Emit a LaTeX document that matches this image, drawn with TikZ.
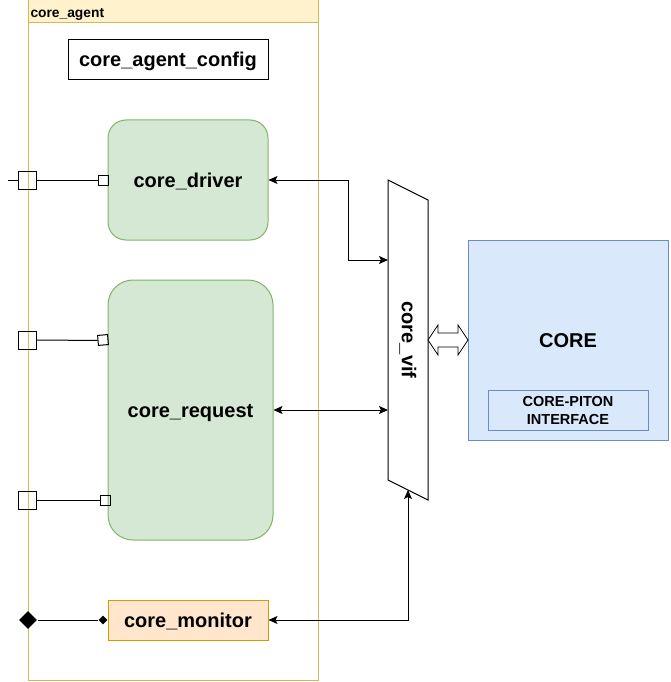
\documentclass[tikz,border=0pt]{standalone}
\usepackage{fontspec}
\setmainfont{Liberation Sans}
\usetikzlibrary{arrows.meta,shapes.geometric}
\definecolor{agentfill}{HTML}{FFF2CC}
\definecolor{agentline}{HTML}{D6B656}
\definecolor{greenfill}{HTML}{D5E8D4}
\definecolor{greenline}{HTML}{82B366}
\definecolor{orangefill}{HTML}{FFE6CC}
\definecolor{orangeline}{HTML}{D79B00}
\definecolor{bluefill}{HTML}{DAE8FC}
\definecolor{blueline}{HTML}{6C8EBF}
\tikzset{
  bigfont/.style={font=\fontsize{20}{24}\selectfont\bfseries},
  big/.style={bigfont, text height=18pt, text depth=4pt},
  block/.style={draw=greenline, fill=greenfill, rounded corners=18pt, big, minimum width=160pt, minimum height=120pt, inner sep=0pt},
  port/.style={draw, minimum size=18pt, inner sep=0pt},
  pin/.style={draw, minimum size=10pt, inner sep=0pt},
  link/.style={{Stealth[length=9pt,width=8pt,inset=2pt]}-{Stealth[length=9pt,width=8pt,inset=2pt]}},
}
\begin{document}
\begin{tikzpicture}[x=1pt, y=-1pt, line width=1pt]
\useasboundingbox (0,0) rectangle (670,682);
% agent frame
\draw[agentline] (28,0) rectangle (318,680);
\filldraw[fill=agentfill, draw=agentline] (28,0) rectangle (318,23);
\node[anchor=west, inner sep=2pt, font=\fontsize{13.8}{16}\selectfont\bfseries] (agentlbl) at (28,14) {core\_agent};
\node[draw, big, minimum width=200pt, minimum height=40pt, inner sep=0pt] (cfg) at (168,60) {core\_agent\_config};
\node[block] (drv) at (188,180) {core\_driver};
\node[block, minimum width=165pt, minimum height=260pt, rounded corners=25pt] (req) at (190.5,410) {core\_request};
\node[draw=orangeline, fill=orangefill, big, minimum width=160pt, minimum height=40pt, inner sep=0pt] (mon) at (188,620) {core\_monitor};
% ports
\coordinate (p1in) at (8,180);
\node[port] (p1) at (27.5,180) {};
\node[pin] (q1) at (103,180) {};
\draw (p1in) -- (p1.west);
\draw (p1.east) -- (q1.west);
\node[port] (p2) at (27.5,340) {};
\node[pin, rotate=5] (q2) at (103,340) {};
\draw (p2.east) -- (q2.west);
\node[port] (p3) at (27.5,500) {};
\node[pin] (q3) at (105,500) {};
\draw (p3.east) -- (q3.west);
\node[diamond, fill, inner sep=0pt, minimum width=18pt, minimum height=18pt] (d1) at (28,620) {};
\node[diamond, fill, inner sep=0pt, minimum width=9pt, minimum height=9pt] (d2) at (103,620) {};
\draw (d1) -- (d2);
% interface
\draw[fill=white] (388,180) -- (428,200) -- (428,500) -- (388,480) -- cycle;
\node[bigfont, rotate=-90] (vif) at (408,340) {core\_vif};
\coordinate (vifA) at (388,260);
\coordinate (vifB) at (388,410);
\coordinate (vifC) at (408,490);
\draw[link] (drv.east) -- ++(80,0) |- (vifA);
\draw[link] (req.east) -- (vifB);
\draw[link] (mon.east) -| (vifC);
% core
\node[draw=blueline, fill=bluefill, big, minimum size=200pt] (core) at (568,340) {CORE};
\node[draw=blueline, fill=bluefill, minimum width=160pt, minimum height=40pt, align=center, font=\fontsize{14.5}{18}\selectfont\bfseries] (piton) at (568,410.5) {CORE-PITON\\INTERFACE};
\draw[fill=white, line width=0.8pt] (428,340) -- (438,325) -- (438,333) -- (458,333) -- (458,325) -- (468,340) -- (458,355) -- (458,347) -- (438,347) -- (438,355) -- cycle;
\end{tikzpicture}
\end{document}
